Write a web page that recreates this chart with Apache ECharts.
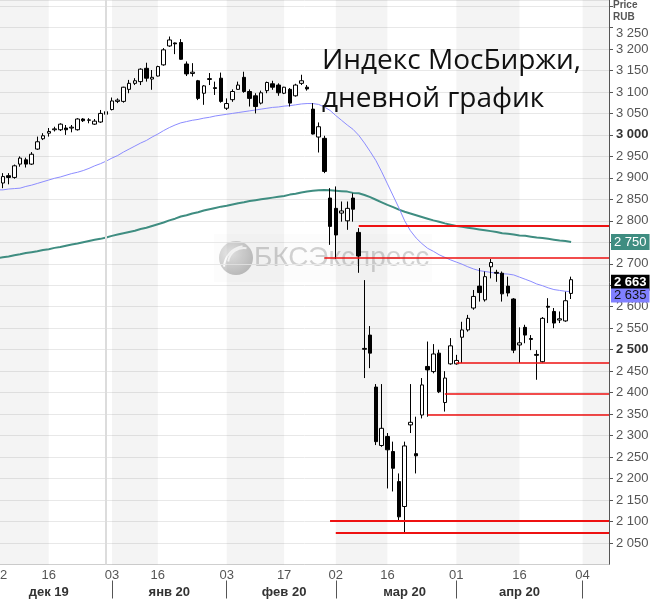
<!DOCTYPE html>
<html><head><meta charset="utf-8">
<script src="https://cdn.jsdelivr.net/npm/echarts/dist/echarts.min.js"></script>
<style>html,body{margin:0;padding:0;background:#fff}#c{width:650px;height:600px}</style>
</head><body><div id="c"></div>
<script>
// Trading days (MOEX); x position of a candle = its index in this list
const dates = [
'2019-12-02','2019-12-03','2019-12-04','2019-12-05','2019-12-06','2019-12-09','2019-12-10','2019-12-11','2019-12-12','2019-12-13',
'2019-12-16','2019-12-17','2019-12-18','2019-12-19','2019-12-20','2019-12-23','2019-12-24','2019-12-25','2019-12-26','2019-12-27','2019-12-30',
'2020-01-03','2020-01-06','2020-01-08','2020-01-09','2020-01-10','2020-01-13','2020-01-14','2020-01-15','2020-01-16','2020-01-17',
'2020-01-20','2020-01-21','2020-01-22','2020-01-23','2020-01-24','2020-01-27','2020-01-28','2020-01-29','2020-01-30','2020-01-31',
'2020-02-03','2020-02-04','2020-02-05','2020-02-06','2020-02-07','2020-02-10','2020-02-11','2020-02-12','2020-02-13','2020-02-14',
'2020-02-17','2020-02-18','2020-02-19','2020-02-20','2020-02-21','2020-02-25','2020-02-26','2020-02-27','2020-02-28',
'2020-03-02','2020-03-03','2020-03-04','2020-03-05','2020-03-06','2020-03-10','2020-03-11','2020-03-12','2020-03-13',
'2020-03-16','2020-03-17','2020-03-18','2020-03-19','2020-03-20','2020-03-23','2020-03-24','2020-03-25','2020-03-26','2020-03-27','2020-03-30','2020-03-31',
'2020-04-01','2020-04-02','2020-04-03','2020-04-06','2020-04-07','2020-04-08','2020-04-09','2020-04-10','2020-04-13','2020-04-14','2020-04-15',
'2020-04-16','2020-04-17','2020-04-20','2020-04-21','2020-04-22','2020-04-23','2020-04-24','2020-04-27','2020-04-28','2020-04-29','2020-04-30',
'2020-05-04','2020-05-05','2020-05-06','2020-05-07','2020-05-08'
];

const openV = [null,null,
2888,2905,2901,2932,2942,2932,2967,2991,3004,3012,
3012,3016,3016,3012,3037,3034,3025,3030,3054,3059,
3078,3078,3106,3120,3124,3155,3130,3137,3163,3207,
3214,3215,3165,3143,3126,3097,3129,3110,3132,3062,
3082,3106,3134,3101,3091,3074,3103,3119,3116,3097,
3106,3091,3120,3111,3060,2995,2992,2853,2829,2818,
2800,2853,2773,2503,2534,2413,2277,2298,2263,2193,
2135,2325,2258,2348,2461,2449,2492,2377,2467,2467,
2529,2546,2597,2648,2616,2693,2680,2678,2648,2618,
2511,2552,2526,2489,2472,2601,2589,2569,2567,2631,
null,null,null,null,null,null];

const closeV = [null,null,
2903,2901,2928,2946,2932,2955,2984,2998,3008,3014,
3025,3012,3018,3037,3033,3035,3032,3050,3048,3079,
3081,3111,3120,3126,3153,3132,3134,3159,3198,3221,
3212,3176,3142,3146,3085,3114,3131,3108,3078,3073,
3101,3116,3101,3085,3066,3098,3122,3111,3098,3111,
3074,3116,3126,3107,3002,3019,2915,2787,2767,2823,
2829,2827,2718,2501,2492,2286,2317,2267,2224,2111,
2276,2331,2253,2418,2453,2490,2402,2434,2509,2475,
2546,2573,2624,2633,2670,2703,2678,2630,2632,2499,
2516,2534,2524,2487,2573,2599,2562,2572,2614,2663,
null,null,null,null,null,null];

const lowV = [null,null,
2876,2885,2898,2926,2924,2930,2965,2988,2996,3008,
3009,3000,3006,3010,3030,3027,3023,3028,3040,3057,
3074,3075,3097,3116,3116,3124,3105,3136,3161,3205,
3188,3175,3137,3136,3081,3070,3116,3093,3075,3058,
3077,3105,3098,3066,3050,3071,3097,3105,3091,3095,
3066,3089,3116,3103,3001,2959,2911,2744,2711,2798,
2779,2798,2679,2434,2457,2278,2274,2177,2170,2100,
2074,2306,2212,2340,2344,2445,2399,2356,2465,2465,
2469,2542,2593,2612,2612,2666,2658,2612,2624,2492,
2469,2515,2499,2430,2470,2562,2550,2562,2565,2618,
null,null,null,null,null,null];

const highV = [null,null,
2911,2911,2931,2950,2947,2960,2996,3004,3016,3019,
3027,3023,3023,3039,3039,3039,3037,3058,3062,3087,
3085,3112,3128,3132,3155,3168,3151,3161,3202,3229,
3215,3223,3171,3167,3128,3116,3144,3124,3145,3085,
3106,3124,3147,3106,3097,3103,3124,3126,3120,3112,
3109,3119,3140,3116,3074,3029,2998,2876,2880,2845,
2845,2864,2783,2662,2555,2420,2420,2306,2286,2212,
2286,2420,2344,2434,2519,2513,2500,2450,2527,2488,
2565,2581,2639,2690,2682,2711,2686,2682,2670,2620,
2552,2558,2534,2499,2576,2620,2597,2589,2635,2670,
null,null,null,null,null,null];

// moving averages (thin blue and thick teal)
const maFast = [
2871,2872,2872,2874,2875,2876,2880,2883,2887,2891,
2895,2899,2902,2906,2910,2913,2917,2922,2928,2933,
2939,2946,2952,2960,2967,2974,2981,2987,2995,3002,
3010,3017,3023,3028,3031,3034,3036,3039,3041,3044,
3046,3048,3050,3052,3054,3056,3058,3060,3062,3064,
3065,3067,3068,3070,3072,3073,3073,3071,3065,3057,
3045,3034,3023,3013,2999,2981,2961,2940,2914,2886,
2858,2830,2800,2777,2760,2747,2736,2729,2721,2715,
2709,2704,2699,2693,2688,2684,2682,2680,2678,2677,
2676,2674,2669,2664,2659,2653,2649,2644,2640,2638,
2636,2635.5,null,null,null,null,null,null];

const maSlow = [
2710,2713,2715,2717,2720,2722,2725,2727,2729,2732,
2734,2737,2739,2742,2745,2747,2750,2753,2756,2758,
2761,2765,2768,2771,2774,2777,2781,2784,2788,2792,
2796,2801,2805,2810,2813,2817,2820,2824,2827,2830,
2833,2835,2838,2841,2843,2846,2848,2850,2852,2854,
2856,2858,2861,2863,2866,2868,2870,2871,2872,2871,
2870,2869,2868,2865,2864,2860,2855,2849,2843,2837,
2832,2826,2821,2817,2813,2809,2805,2801,2798,2794,
2791,2788,2786,2784,2782,2780,2778,2776,2774,2771,
2770,2768,2766,2765,2763,2761,2760,2758,2756,2754,
2753,2750.6,null,null,null,null,null,null];

// x-axis tick labels
const dayTicks = ['2019-12-02','2019-12-16','2020-01-03','2020-01-16','2020-02-03','2020-02-17','2020-03-02','2020-03-16','2020-04-01','2020-04-16','2020-05-04'];
const monthStarts = ['2020-01-03','2020-02-03','2020-03-02','2020-04-01','2020-05-04'];
const monthLabelDates = ['2019-12-16','2020-01-20','2020-02-17','2020-03-19','2020-04-16'];
const monthLabelTexts = ['дек 19','янв 20','фев 20','мар 20','апр 20'];

// horizontal levels: start date, value, width
const levelStarts = ['2020-03-06','2020-02-27','2020-04-01','2020-03-30','2020-03-25','2020-02-28','2020-03-02'];
const levelValues = [2788, 2713, 2470, 2397, 2348, 2101, 2074];
const levelWidths = [2, 1.5, 1.5, 1.5, 1.5, 2, 2];

// visible window of the trading-day axis
const X_MIN = 1.5, X_MAX = 107.6;

const fmt = v => String(Math.floor(v)).replace(/\B(?=(\d{3})+(?!\d))/g, ' ');
const idx = d => dates.indexOf(d);
const lastIdx = 101;

const candleData = [];
dates.forEach((d, i) => { if (openV[i] != null) candleData.push([i, openV[i], closeV[i], lowV[i], highV[i]]); });
const fastData = [], slowData = [];
dates.forEach((d, i) => { if (maFast[i] != null) { fastData.push([i, maFast[i]]); slowData.push([i, maSlow[i]]); } });

const bands = [];
for (let k = 0; k < dayTicks.length; k += 2) {
  const a = Math.max(idx(dayTicks[k]), X_MIN);
  const b = dayTicks[k + 1] ? idx(dayTicks[k + 1]) : X_MAX;
  bands.push([{ xAxis: a }, { xAxis: b }]);
}
const dayLabelPos = dayTicks.map(d => Math.max(idx(d), X_MIN));
const dayLabelText = v => { const i = v < 2 ? 0 : Math.round(v); return dates[i].slice(8); };

const chart = echarts.init(document.getElementById('c'), null, { renderer: 'canvas' });
const lab = { fontFamily: 'Liberation Sans', fontSize: 13 };

chart.setOption({
  animation: false,
  backgroundColor: '#fff',
  grid: { left: 0, right: 41, top: 0, bottom: 35.5, containLabel: false, outerBoundsMode: 'none' },
  xAxis: [{
    type: 'value', min: X_MIN, max: X_MAX,
    axisLine: { show: true, onZero: false, lineStyle: { color: '#cfcfcf', width: 1 } },
    axisTick: { show: false },
    splitLine: { show: false },
    axisLabel: {
      customValues: dayLabelPos,
      formatter: v => dayLabelText(v),
      color: '#555', margin: 4, ...lab
    }
  }, {
    type: 'value', min: X_MIN, max: X_MAX, position: 'bottom', offset: 16,
    axisLine: { show: false, onZero: false },
    axisTick: { show: true, length: 18, customValues: monthStarts.map(idx), lineStyle: { color: '#555' } },
    splitLine: { show: false },
    axisLabel: {
      customValues: monthLabelDates.map(idx),
      formatter: v => monthLabelTexts[monthLabelDates.indexOf(dates[Math.round(v)])],
      color: '#333', fontWeight: 'bold', margin: 5, ...lab
    }
  }],
  yAxis: {
    type: 'value', position: 'right', min: 2000, max: 3314, interval: 50,
    axisLine: { show: true, lineStyle: { color: '#555' } },
    axisTick: { show: true, length: 4, lineStyle: { color: '#555' } },
    splitLine: { show: true, lineStyle: { color: '#e8e8e8', width: 1 } },
    axisLabel: {
      margin: 7, color: '#555', ...lab,
      showMinLabel: false, showMaxLabel: false,
      formatter: v => {
        if (v > 3260 || v < 2040) return '';
        const s = fmt(v);
        if (v === 3000 || v === 2500) return '{b|' + s + '}';
        if (v === 3250) return '{t|' + s + '}';
        return s;
      },
      rich: {
        b: { fontWeight: 'bold', color: '#333', ...lab },
        t: { padding: [11, 0, 0, 0], color: '#555', ...lab }
      }
    }
  },
  series: [
    {
      name: 'bands', type: 'line', data: [], z: 1, silent: true,
      markArea: { silent: true, itemStyle: { color: 'rgba(0,0,0,0.042)' }, data: bands },
      markLine: { silent: true, symbol: ['none', 'none'], label: { show: false },
        lineStyle: { color: '#dcdcdc', width: 2, type: 'solid' },
        data: [{ xAxis: idx('2019-12-30') }] }
    },
    {
      name: 'MA slow', type: 'line', data: slowData, showSymbol: false, z: 2,
      lineStyle: { color: '#3f8d81', width: 2 }, itemStyle: { color: '#3f8d81' }
    },
    {
      name: 'MA fast', type: 'line', data: fastData, showSymbol: false, z: 2,
      lineStyle: { color: '#8c8cff', width: 1 }, itemStyle: { color: '#8c8cff' }
    },
    {
      name: 'IMOEX', type: 'candlestick', data: candleData, barWidth: 4, z: 3,
      itemStyle: { color: '#ffffff', color0: '#000000', borderColor: '#000000', borderColor0: '#000000', borderColorDoji: '#000000', borderWidth: 1 },
      markLine: {
        silent: true, symbol: ['none', 'none'], label: { show: false },
        data: levelValues.map((v, k) => [
          { coord: [idx(levelStarts[k]), v], lineStyle: { color: '#ee1111', width: levelWidths[k], type: 'solid' } },
          { coord: [X_MAX, v] }
        ])
      }
    },
    {
      name: 'tags', type: 'line', data: [], z: 20, silent: true, clip: false,
      markLine: {
        silent: true, symbol: ['none', 'none'],
        lineStyle: { color: 'rgba(0,0,0,0)', width: 0 },
        data: [
          { yAxis: maSlow[lastIdx], label: { show: true, position: 'end', distance: 2, formatter: fmt(maSlow[lastIdx]), backgroundColor: '#3f8d81', color: '#fff', padding: [2, 3, 1, 3], ...lab } },
          { yAxis: closeV[lastIdx], label: { show: true, position: 'end', distance: 2, offset: [0, 3], formatter: fmt(closeV[lastIdx]), backgroundColor: '#000', color: '#fff', fontWeight: 'bold', padding: [2, 3, 1, 3], ...lab } },
          { yAxis: maFast[lastIdx], label: { show: true, position: 'end', distance: 2, offset: [0, 4], formatter: fmt(maFast[lastIdx]), backgroundColor: '#8080ff', color: '#111', padding: [1, 3, 0, 3], ...lab } }
        ]
      }
    }
  ],
  graphic: [
    { type: 'text', left: 613, top: -1, z: 50, style: { text: 'Price\nRUB', font: 'bold 10px Liberation Sans', fill: '#555', lineHeight: 12 } },
    { type: 'text', left: 322, top: 42, z: 50, style: { text: 'Индекс МосБиржи,\nдневной график', font: '28px "Open Sans"', fill: '#111', lineHeight: 38 } },
    {
      type: 'group', left: 214, top: 234, z: 60, silent: true,
      children: [
        { type: 'rect', shape: { x: 0, y: 0, width: 218, height: 48 }, style: { fill: 'rgba(250,250,250,0.5)' } },
        { type: 'circle', shape: { cx: 22, cy: 24, r: 17 },
          style: { fill: new echarts.graphic.RadialGradient(0.35, 0.35, 0.8, [{ offset: 0, color: 'rgba(225,225,225,0.75)' }, { offset: 1, color: 'rgba(165,165,165,0.75)' }]) } },
        { type: 'arc', shape: { cx: 30, cy: 30, r: 16, startAngle: Math.PI * 1.05, endAngle: Math.PI * 1.55 }, style: { stroke: 'rgba(255,255,255,0.9)', lineWidth: 2, fill: null } },
        { type: 'arc', shape: { cx: 32, cy: 34, r: 22, startAngle: Math.PI * 1.02, endAngle: Math.PI * 1.45 }, style: { stroke: 'rgba(255,255,255,0.9)', lineWidth: 2, fill: null } },
        { type: 'text', x: 40, y: 10, style: { text: 'БКСЭкспресс', font: '28px "Liberation Sans"', fill: 'rgba(155,155,155,0.45)' } }
      ]
    }
  ]
});
</script>
</body></html>
